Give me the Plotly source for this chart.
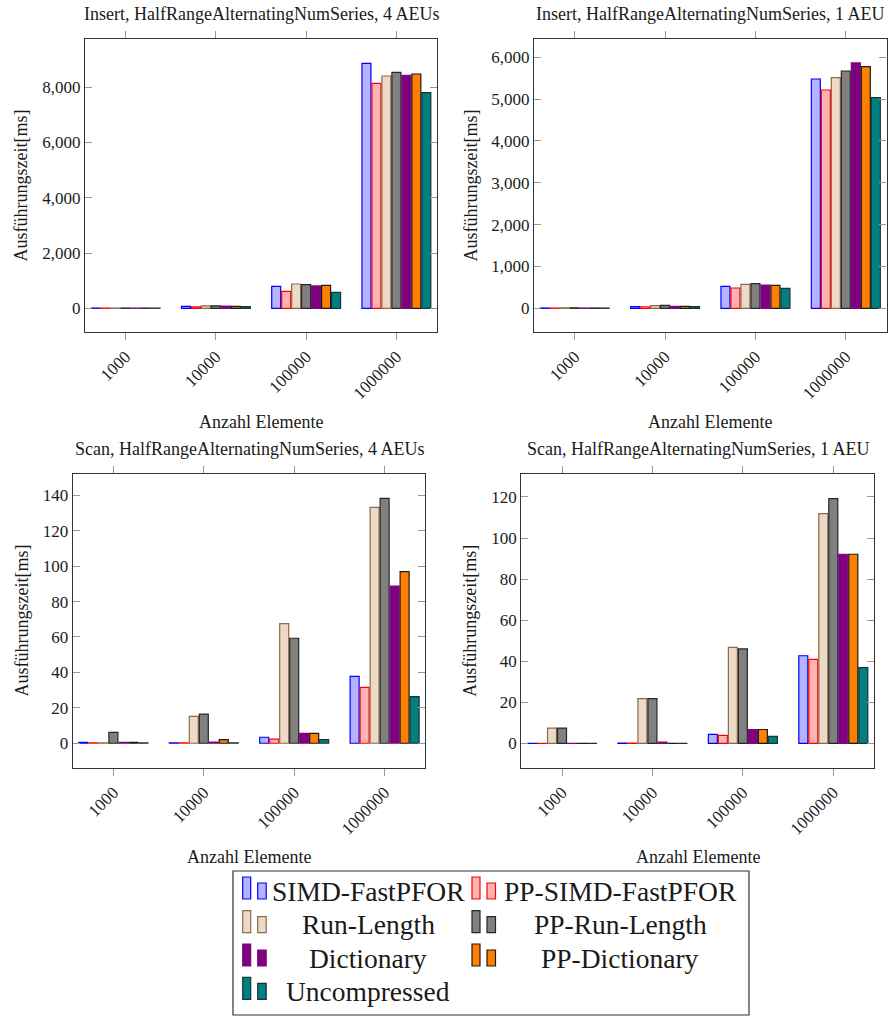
import plotly.graph_objects as go

# ---------------- data ----------------
categories = ["1000", "10000", "100000", "1000000"]
series = ["SIMD-FastPFOR", "PP-SIMD-FastPFOR", "Run-Length", "PP-Run-Length",
          "Dictionary", "PP-Dictionary", "Uncompressed"]

insert_4aeu = [
    [9, 72, 796, 8866],
    [8, 50, 615, 8142],
    [10, 90, 880, 8408],
    [10, 90, 856, 8541],
    [9, 80, 808, 8432],
    [8, 70, 832, 8480],
    [8, 60, 579, 7805],
]
insert_1aeu = [
    [8, 40, 526, 5482],
    [7, 38, 486, 5219],
    [12, 65, 574, 5514],
    [12, 72, 590, 5673],
    [8, 45, 558, 5865],
    [7, 45, 550, 5777],
    [7, 40, 478, 5036],
]
scan_4aeu = [
    [0.5, 0.2, 3.4, 37.8],
    [0.2, 0.2, 2.3, 31.6],
    [0.3, 15.2, 67.6, 133.2],
    [6.2, 16.4, 59.3, 138.3],
    [0.5, 0.6, 5.6, 88.8],
    [0.5, 2.1, 5.6, 96.9],
    [0.2, 0.2, 2.1, 26.3],
]
scan_1aeu = [
    [0.1, 0.2, 4.4, 42.7],
    [0.1, 0.2, 3.9, 40.9],
    [7.5, 21.8, 46.8, 111.9],
    [7.5, 21.8, 46.0, 119.2],
    [0.1, 0.7, 6.8, 92.1],
    [0.1, 0.1, 6.8, 92.1],
    [0.1, 0.1, 3.4, 36.9],
]

titles = ["Insert, HalfRangeAlternatingNumSeries, 4 AEUs",
          "Insert, HalfRangeAlternatingNumSeries, 1 AEU",
          "Scan, HalfRangeAlternatingNumSeries, 4 AEUs",
          "Scan, HalfRangeAlternatingNumSeries, 1 AEU"]
panels = [insert_4aeu, insert_1aeu, scan_4aeu, scan_1aeu]
y_ranges = [[-858, 9747], [-566, 6438], [-13.8, 152.2], [-11.8, 131.3]]
y_dticks = [2000, 1000, 20, 20]
x_label = "Anzahl Elemente"
y_label = "Ausführungszeit[ms]"

fills = ["#B3B3FF", "#FFB3B3", "#ECD9C6", "#808080", "#800080", "#FF8000", "#008080"]
edges = ["#0000FF", "#FF0000", "#8C6A48", "#262626", "#7A0A7A", "#1A1A1A", "#1A3333"]

# ---------------- layout geometry (pixels) ----------------
W, H = 889, 1016
boxes = [  # x0, x1, ytop, ybottom
    (85, 437, 39, 332),
    (534, 886.5, 39, 332),
    (72.7, 425.3, 473.7, 767.7),
    (521.3, 874, 473.7, 767.7),
]
ylabel_x = [20, 470, 21.7, 470]
FONT = "Liberation Serif"
TXT = "#1a1a1a"

fig = go.Figure()
annotations = []
shapes = []

for i, (data, box) in enumerate(zip(panels, boxes)):
    sfx = "" if i == 0 else str(i + 1)
    for s, name in enumerate(series):
        fig.add_trace(go.Bar(
            x=categories, y=data[s], name=name,
            marker=dict(color=fills[s], line=dict(color=edges[s], width=1.2)),
            xaxis="x" + sfx, yaxis="y" + sfx, showlegend=False,
        ))
    x0, x1, yt, yb = box
    fig.layout["xaxis" + sfx] = dict(
        domain=[x0 / W, x1 / W], anchor="y" + sfx, range=[-0.45, 3.45],
        type="category", tickangle=-45, ticks="outside", ticklen=7, tickcolor="#999999",
        showline=True, linecolor="#333333", linewidth=1.3, mirror="ticks",
        showgrid=False, zeroline=False,
        tickfont=dict(family=FONT, size=17, color=TXT),
    )
    fig.layout["yaxis" + sfx] = dict(
        domain=[1 - yb / H, 1 - yt / H], anchor="x" + sfx, range=y_ranges[i],
        dtick=y_dticks[i], tick0=0, tickformat=",d", ticks="inside", ticklen=7,
        tickcolor="#999999", showline=True, linecolor="#333333", linewidth=1.3,
        mirror="ticks", showgrid=False, zeroline=False,
        tickfont=dict(family=FONT, size=17, color=TXT),
    )
    cx = (x0 + x1) / 2 / W
    annotations.append(dict(text=titles[i], x=cx, y=1 - (yt - 25) / H, xref="paper", yref="paper",
                            showarrow=False, xanchor="center", yanchor="middle",
                            font=dict(family=FONT, size=18, color=TXT)))
    annotations.append(dict(text=x_label, x=cx, y=1 - (yb + 89.5) / H, xref="paper", yref="paper",
                            showarrow=False, xanchor="center", yanchor="middle",
                            font=dict(family=FONT, size=18, color=TXT)))
    annotations.append(dict(text=y_label, x=ylabel_x[i] / W, y=1 - (yt + yb) / 2 / H,
                            xref="paper", yref="paper", textangle=-90,
                            showarrow=False, xanchor="center", yanchor="middle",
                            font=dict(family=FONT, size=18, color=TXT)))

# ---------------- legend (manual, pgfplots-style) ----------------
lg_x0, lg_x1, lg_y0, lg_y1 = 233, 749, 871, 1015
shapes.append(dict(type="rect", xref="paper", yref="paper",
                   x0=lg_x0 / W, x1=lg_x1 / W, y0=1 - lg_y1 / H, y1=1 - lg_y0 / H,
                   line=dict(color="#333333", width=1.2), fillcolor="white", layer="above"))
col_icon_x = [242.7, 472]
col_text_cx = [368, 620]
row_bottom = [899, 932.7, 966, 999.3]
for k, name in enumerate(series):
    r, c = divmod(k, 2)
    ix = col_icon_x[c]
    yb_ = row_bottom[r]
    for (dx, w, h) in [(0, 8, 22), (15, 8.5, 16)]:
        shapes.append(dict(type="rect", xref="paper", yref="paper",
                           x0=(ix + dx) / W, x1=(ix + dx + w) / W,
                           y0=1 - yb_ / H, y1=1 - (yb_ - h) / H,
                           fillcolor=fills[k], line=dict(color=edges[k], width=1.2), layer="above"))
    annotations.append(dict(text=name, x=col_text_cx[c] / W, y=1 - (yb_ - 8) / H,
                            xref="paper", yref="paper", showarrow=False,
                            xanchor="center", yanchor="middle",
                            font=dict(family=FONT, size=27.5, color=TXT)))

fig.update_layout(
    width=W, height=H, margin=dict(l=0, r=0, t=0, b=0),
    paper_bgcolor="white", plot_bgcolor="white",
    barmode="group", bargap=0.226, bargroupgap=0.1,
    annotations=annotations, shapes=shapes, showlegend=False,
)

fig.write_html("out.html", config={"displayModeBar": False},
               post_script="document.body.style.margin='0';document.body.style.overflow='hidden';")
